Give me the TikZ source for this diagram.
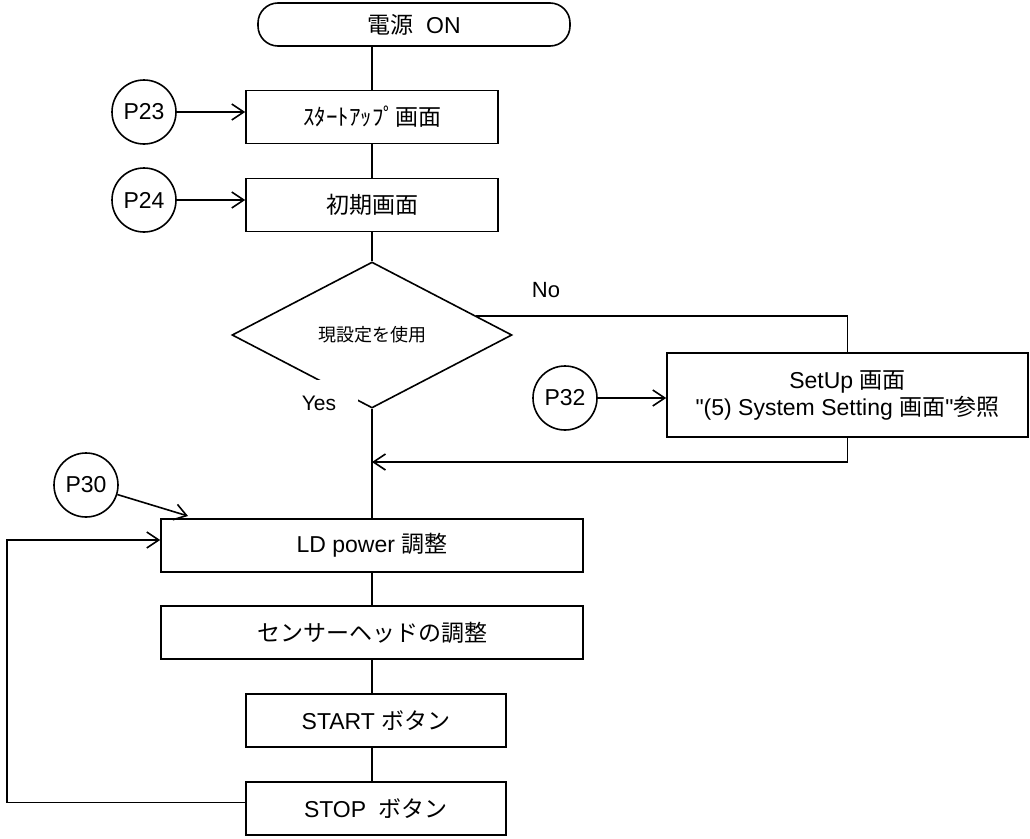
\documentclass[tikz,border=0pt]{standalone}
\usepackage{fontspec}
\setmainfont{Liberation Sans}
\newfontfamily\jp{Noto Sans CJK JP}
\usetikzlibrary{shapes.geometric,arrows.meta,calc}

\tikzset{
  box/.style={draw,minimum height=53pt,inner sep=0pt,font=\fontsize{23}{27}\selectfont},
  term/.style={box,rounded corners=20pt,minimum height=43pt},
  dec/.style={draw,diamond,aspect=1.92,minimum width=280pt,minimum height=146pt,inner sep=0pt,font=\fontsize{18}{20}\selectfont},
  ref/.style={draw,circle,minimum size=64pt,inner sep=0pt,font=\fontsize{23}{27}\selectfont},
  arr/.style={-{Straight Barb[length=12pt,width=16pt]}},
  lbl/.style={font=\fontsize{22}{26}\selectfont}
}

\begin{document}
\begin{tikzpicture}[x=1pt,y=-1pt,line width=1.6pt]
\useasboundingbox (0,0) rectangle (1030,838);

\node[term,minimum width=312pt] (power) at (414,24.5) {{\jp 電源}\ \ ON};
\node[box,minimum width=252pt] (startup) at (372,117) {\jp ｽﾀｰﾄｱｯﾌﾟ画面};
\node[box,minimum width=252pt] (init) at (372,205) {\jp 初期画面};
\node[dec] (cur) at (372,335) {\jp 現設定を使用};
\node[box,minimum width=361pt,minimum height=84pt,align=center] (setup) at (847.5,395)
  {SetUp {\jp 画面}\\\textquotedbl(5) System Setting {\jp 画面}\textquotedbl{\jp 参照}};
\node[box,minimum width=422pt] (ld) at (372,545.5) {LD power {\jp 調整}};
\node[box,minimum width=422pt] (head) at (372,632.5) {\jp センサーヘッドの調整};
\node[box,minimum width=260pt] (btnstart) at (376,720.5) {START {\jp ボタン}};
\node[box,minimum width=260pt] (btnstop) at (376,808.5) {STOP\ \ {\jp ボタン}};

\node[ref] (p23) at (144,112) {P23};
\node[ref] (p24) at (144,200) {P24};
\node[ref] (p32) at (565,398) {P32};
\node[ref] (p30) at (86,485) {P30};

\coordinate (nostart) at ($(cur.north)!0.74!(cur.east)$);
\coordinate (join) at (372,462);
\coordinate (p30in) at (188,516);
\coordinate (loopx) at (7,0);

% main flow
\draw (startup.north |- power.south) -- (startup.north);
\draw (startup) -- (init);
\draw (init) -- (cur);
\draw (cur.south) -- (ld.north);
\draw (ld) -- (head);
\draw (head.south) -- (head.south |- btnstart.north);
\draw (head.south |- btnstart.south) -- (head.south |- btnstop.north);

% page refs
\draw[arr] (p23) -- (p23 -| startup.west);
\draw[arr] (p24) -- (p24 -| init.west);
\draw[arr] (p32) -- (p32 -| setup.west);
\draw[arr] (p30) -- (p30in);

% branch and loop
\draw (nostart) -| (setup.north);
\draw[arr] (setup.south) |- (join);
\draw[arr] ([yshift=6pt]btnstop.west) -- ([yshift=6pt]btnstop.west -| loopx) |- ([yshift=5.5pt]ld.west);

\node[lbl] (no) at (546,290) {No};
\node[lbl,fill=white,minimum width=78pt,minimum height=46pt,inner sep=0pt,font=\fontsize{21}{24}\selectfont] (yes) at (319,403) {Yes};
\end{tikzpicture}
\end{document}
